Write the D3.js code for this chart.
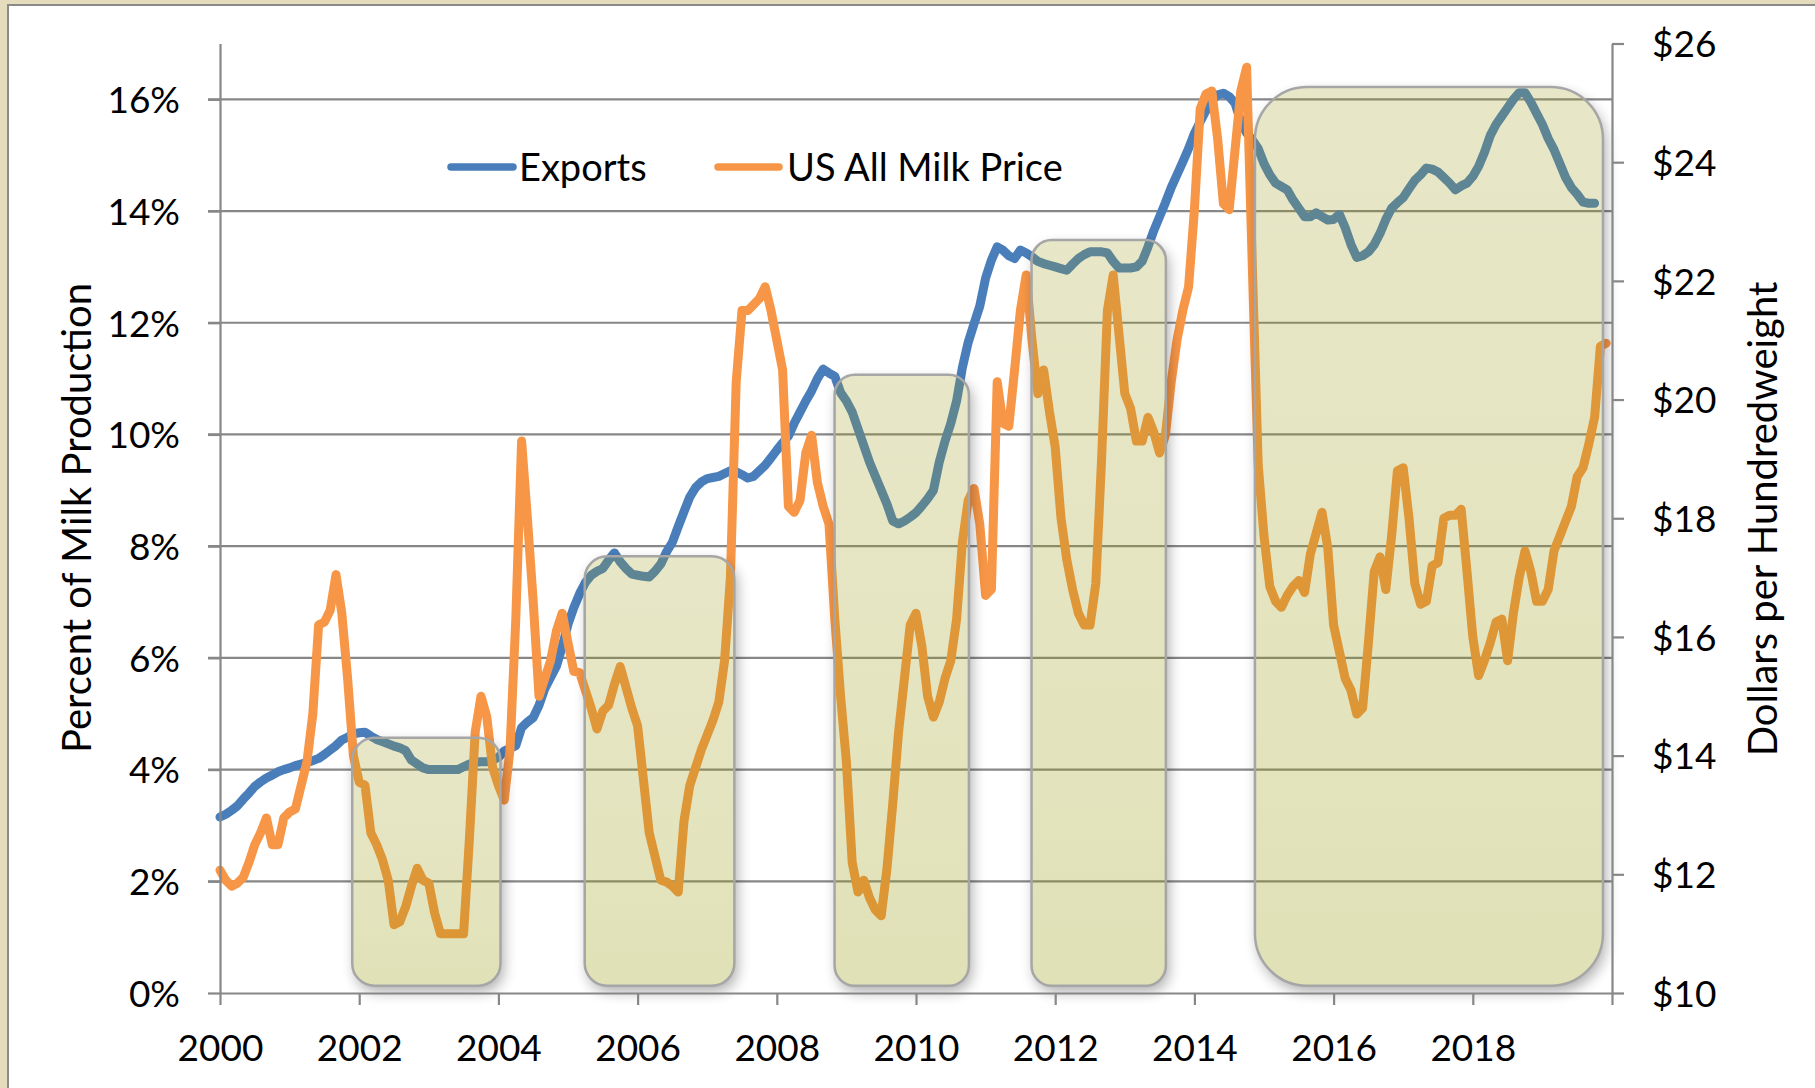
<!DOCTYPE html>
<html><head><meta charset="utf-8">
<script src="https://cdn.jsdelivr.net/npm/d3@7"></script>
<style>body{margin:0;background:#e4dcbd;} svg{display:block;}</style>
</head><body>
<svg id="chart" width="1815" height="1088"></svg>
<script>
// ---- DATA (monthly, Jan 2000 .. Dec 2019) ----
const milkPrice = [
12.07,11.9,11.8,11.85,11.95,12.2,12.5,12.7,12.95,12.5,12.5,12.95,
13.05,13.1,13.5,13.9,14.7,16.2,16.25,16.45,17.05,16.4,15.3,14.0,
13.55,13.5,12.7,12.5,12.25,11.9,11.15,11.2,11.45,11.8,12.1,11.9,
11.85,11.35,11.0,11.0,11.0,11.0,11.0,12.6,14.4,15.0,14.65,13.8,
13.5,13.25,14.1,16.3,19.3,18.0,16.6,15.0,15.3,15.6,16.1,16.4,
15.9,15.42,15.4,15.1,14.8,14.45,14.75,14.85,15.2,15.5,15.15,14.8,
14.5,13.6,12.7,12.3,11.9,11.87,11.8,11.7,12.9,13.5,13.8,14.1,
14.35,14.6,14.9,15.6,17.0,20.3,21.5,21.5,21.6,21.7,21.9,21.5,
21.0,20.5,18.2,18.1,18.3,19.1,19.4,18.6,18.2,17.9,16.3,15.0,
13.9,12.2,11.7,11.9,11.6,11.4,11.3,12.1,13.2,14.4,15.3,16.2,
16.4,15.85,15.0,14.65,14.9,15.3,15.6,16.3,17.6,18.3,18.5,17.9,
16.7,16.8,20.3,19.6,19.55,20.5,21.5,22.1,21.0,20.1,20.5,19.8,
19.2,18.0,17.3,16.8,16.4,16.2,16.2,16.9,19.0,21.5,22.1,21.1,
20.1,19.85,19.3,19.3,19.7,19.45,19.1,19.4,20.3,21.0,21.5,21.9,
23.2,24.9,25.15,25.2,24.4,23.3,23.2,24.2,25.2,25.6,22.2,18.9,
17.7,16.85,16.6,16.5,16.7,16.85,16.95,16.75,17.4,17.75,18.1,17.5,
16.2,15.75,15.3,15.1,14.7,14.8,15.9,17.1,17.35,16.8,17.7,18.8,
18.85,18.0,16.9,16.55,16.6,17.2,17.25,18.0,18.05,18.05,18.15,17.1,
16.0,15.35,15.6,15.9,16.25,16.3,15.6,16.4,17.0,17.45,17.1,16.6,
16.6,16.8,17.45,17.7,17.95,18.2,18.7,18.85,19.25,19.7,20.9,20.95
];
const exportsPct = [
3.15,3.2,3.27,3.35,3.47,3.58,3.7,3.78,3.85,3.9,3.96,4.0,
4.03,4.07,4.1,4.13,4.16,4.2,4.27,4.35,4.43,4.53,4.58,4.64,
4.66,4.67,4.6,4.54,4.5,4.46,4.42,4.39,4.34,4.17,4.1,4.03,
4.0,4.0,4.0,4.0,4.0,4.0,4.05,4.1,4.13,4.14,4.14,4.17,
4.22,4.33,4.38,4.43,4.75,4.85,4.93,5.15,5.45,5.65,5.85,6.2,
6.6,6.9,7.15,7.35,7.48,7.55,7.6,7.75,7.88,7.72,7.6,7.5,
7.48,7.46,7.45,7.55,7.68,7.9,8.07,8.35,8.62,8.88,9.05,9.15,
9.21,9.23,9.25,9.3,9.35,9.33,9.28,9.22,9.25,9.35,9.45,9.58,
9.72,9.85,9.97,10.2,10.4,10.6,10.78,11.0,11.17,11.1,11.04,10.75,
10.6,10.4,10.1,9.8,9.5,9.25,9.0,8.75,8.45,8.4,8.45,8.52,
8.6,8.72,8.85,9.0,9.5,9.88,10.2,10.6,11.2,11.65,11.98,12.3,
12.8,13.12,13.36,13.3,13.2,13.15,13.3,13.25,13.18,13.1,13.06,13.03,
13.0,12.97,12.94,13.05,13.15,13.22,13.27,13.27,13.27,13.25,13.1,12.98,
12.98,12.98,13.0,13.1,13.36,13.65,13.9,14.15,14.42,14.65,14.88,15.12,
15.39,15.6,15.8,15.98,16.08,16.11,16.05,15.93,15.6,15.4,15.27,15.12,
14.85,14.65,14.5,14.44,14.38,14.2,14.05,13.9,13.9,13.97,13.9,13.84,
13.85,13.94,13.7,13.4,13.17,13.2,13.27,13.4,13.6,13.85,14.05,14.15,
14.24,14.4,14.55,14.65,14.77,14.75,14.7,14.6,14.5,14.38,14.45,14.5,
14.62,14.8,15.05,15.35,15.55,15.7,15.85,16.0,16.12,16.12,15.95,15.75,
15.55,15.3,15.1,14.85,14.6,14.42,14.3,14.16,14.14,14.14
];
const seriesNames = ["Exports", "US All Milk Price"];
const xTickYears = [2000,2002,2004,2006,2008,2010,2012,2014,2016,2018,2020];
const xTickLabels = ["2000","2002","2004","2006","2008","2010","2012","2014","2016","2018",""];
const leftTicks = [0,2,4,6,8,10,12,14,16];
const rightTicks = [10,12,14,16,18,20,22,24,26];
const leftTitle = "Percent of Milk Production";
const rightTitle = "Dollars per Hundredweight";
// highlighted periods (decimal years, top in % of milk production)
const periodStart = [2001.9, 2005.24, 2008.83, 2011.66, 2014.87];
const periodEnd   = [2004.03, 2007.39, 2010.76, 2013.59, 2019.87];
const periodTop   = [4.57, 7.82, 11.07, 13.48, 16.22];
const periodBottom = 0.13;

// ---- LAYOUT ----
const W = 1815, H = 1088;
const P = {left: 220, right: 1612, top: 43.5, bottom: 993};
const FONT = "Lato, 'Open Sans', sans-serif";
const FS = 37;
const BLUE = "#4a7ebb", ORANGE = "#f79646", GRID = "#878787";

const svg = d3.select("#chart");
const x = d3.scaleLinear().domain([2000, 2020]).range([P.left, P.right]);
const yL = d3.scaleLinear().domain([0, 17]).range([P.bottom, P.top]);
const yR = d3.scaleLinear().domain([10, 26]).range([P.bottom, P.top]);
const monthYear = i => 2000 + i / 12;

// background + panel
svg.append("rect").attr("width", W).attr("height", H).attr("fill", "#e4dcbd");
svg.append("rect").attr("x", 8).attr("y", 5).attr("width", W).attr("height", H)
  .attr("fill", "#fff").attr("stroke", "#8a8a8a").attr("stroke-width", 2);

const defs = svg.append("defs");
defs.append("filter").attr("id", "blur").attr("x", "-50%").attr("y", "-50%")
  .attr("width", "200%").attr("height", "200%")
  .append("feGaussianBlur").attr("stdDeviation", 7);
const grad = defs.append("linearGradient").attr("id", "boxFill")
  .attr("x1", 0).attr("y1", 0).attr("x2", 0).attr("y2", 1);
grad.append("stop").attr("offset", 0).attr("stop-color", "#9c9c1c").attr("stop-opacity", 0.24);
grad.append("stop").attr("offset", 1).attr("stop-color", "#949400").attr("stop-opacity", 0.28);

// gridlines
svg.append("g").selectAll("line").data(leftTicks.filter(d => d > 0)).join("line")
  .attr("x1", P.left - 12).attr("x2", P.right)
  .attr("y1", d => yL(d)).attr("y2", d => yL(d))
  .attr("stroke", GRID).attr("stroke-width", 2.2);

// series lines
const lineL = d3.line().x((d, i) => x(monthYear(i))).y(d => yL(d));
const lineR = d3.line().x((d, i) => x(monthYear(i))).y(d => yR(d));
svg.append("path").datum(exportsPct).attr("d", lineL).attr("fill", "none")
  .attr("stroke", BLUE).attr("stroke-width", 9).attr("stroke-linejoin", "round").attr("stroke-linecap", "round");
svg.append("path").datum(milkPrice).attr("d", lineR).attr("fill", "none")
  .attr("stroke", ORANGE).attr("stroke-width", 9).attr("stroke-linejoin", "round").attr("stroke-linecap", "round");

// highlighted period boxes
const boxes = periodStart.map((s, k) => {
  const bx = x(s), bw = x(periodEnd[k]) - x(s);
  const by = yL(periodTop[k]), bh = yL(periodBottom) - yL(periodTop[k]);
  return {bx, by, bw, bh, r: 0.15 * Math.min(bw, bh)};
});
boxes.forEach((b, k) => {
  const m = defs.append("mask").attr("id", "mk" + k).attr("maskUnits", "userSpaceOnUse")
    .attr("x", 0).attr("y", 0).attr("width", W).attr("height", H);
  m.append("rect").attr("width", W).attr("height", H).attr("fill", "#fff");
  m.append("rect").attr("x", b.bx).attr("y", b.by).attr("width", b.bw).attr("height", b.bh)
    .attr("rx", b.r).attr("fill", "#000");
});
const gb = svg.append("g");
gb.selectAll("rect.sh").data(boxes).join("rect").attr("class", "sh")
  .attr("x", b => b.bx + 3).attr("y", b => b.by + 6).attr("width", b => b.bw).attr("height", b => b.bh)
  .attr("rx", b => b.r).attr("fill", "#000").attr("opacity", 0.32)
  .attr("filter", "url(#blur)").attr("mask", (b, k) => "url(#mk" + k + ")");
gb.selectAll("rect.bx").data(boxes).join("rect").attr("class", "bx")
  .attr("x", b => b.bx).attr("y", b => b.by).attr("width", b => b.bw).attr("height", b => b.bh)
  .attr("rx", b => b.r).attr("fill", "url(#boxFill)")
  .attr("stroke", "#a6a6a6").attr("stroke-width", 2.5);

// axes
function styleAxis(g) {
  g.select(".domain").attr("stroke", GRID).attr("stroke-width", 2.2);
  g.selectAll(".tick line").attr("stroke", GRID).attr("stroke-width", 2.2);
  g.selectAll("text").attr("fill", "#000").attr("font-family", FONT).attr("font-size", FS);
}
const axB = svg.append("g").attr("transform", `translate(0,${P.bottom})`)
  .call(d3.axisBottom(x).tickValues(xTickYears).tickSize(12).tickSizeOuter(0)
    .tickFormat((d, i) => xTickLabels[i]));
styleAxis(axB);
axB.selectAll("text").attr("y", 68).attr("dy", 0);

const axL = svg.append("g").attr("transform", `translate(${P.left},0)`)
  .call(d3.axisLeft(yL).tickValues(leftTicks).tickSize(12).tickSizeOuter(0).tickFormat(d => d + "%"));
styleAxis(axL);
axL.selectAll("text").attr("x", -40).attr("dy", "0.36em");

const axR = svg.append("g").attr("transform", `translate(${P.right},0)`)
  .call(d3.axisRight(yR).tickValues(rightTicks).tickSize(12).tickSizeOuter(0).tickFormat(d => "$" + d));
styleAxis(axR);
axR.selectAll("text").attr("x", 40).attr("dy", "0.36em");

// axis titles
svg.append("text").attr("transform", `translate(91,518) rotate(-90)`)
  .attr("text-anchor", "middle").attr("font-family", FONT).attr("font-size", 40).text(leftTitle);
svg.append("text").attr("transform", `translate(1777,519) rotate(-90)`)
  .attr("text-anchor", "middle").attr("font-family", FONT).attr("font-size", 40).text(rightTitle);

// legend
const legend = [
  {name: seriesNames[0], color: BLUE, x1: 451, x2: 513, tx: 519},
  {name: seriesNames[1], color: ORANGE, x1: 718, x2: 779, tx: 787}
];
const lg = svg.append("g");
lg.selectAll("line").data(legend).join("line")
  .attr("x1", d => d.x1).attr("x2", d => d.x2).attr("y1", 167).attr("y2", 167)
  .attr("stroke", d => d.color).attr("stroke-width", 7.5).attr("stroke-linecap", "round");
lg.selectAll("text").data(legend).join("text")
  .attr("x", d => d.tx).attr("y", 167).attr("dy", "0.36em")
  .attr("font-family", FONT).attr("font-size", 38).text(d => d.name);
</script>
</body></html>
